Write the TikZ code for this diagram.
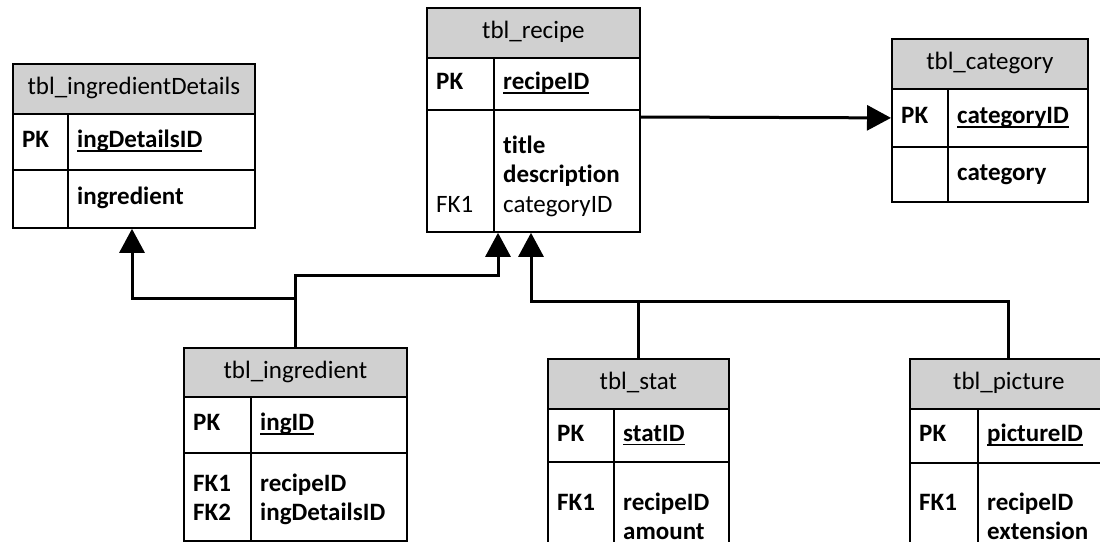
\documentclass[tikz,border=0pt]{standalone}
\usepackage{fontspec}
\setmainfont{Carlito}[Ligatures=NoCommon]
\usetikzlibrary{calc,arrows.meta}
\definecolor{hdrgray}{RGB}{208,208,208}
\newcommand\pkul[1]{\setbox0\hbox{#1}\rlap{\rule[-4pt]{\wd0}{1.8pt}}\box0}
\begin{document}
\begin{tikzpicture}[x=1pt,y=-1pt,
  txt/.style={font=\fontsize{25}{29.5}\selectfont, inner sep=0pt},
  frame/.style={draw=black, line width=1.8pt, rectangle, inner sep=0pt, anchor=north west},
  hdrbox/.style={frame, fill=hdrgray},
  lbl/.style={txt, anchor=west, xshift=10pt},
  body/.style={txt, anchor=north west, align=left},
  link/.style={line width=3pt},
  fk/.style={link, -{Triangle[length=24pt,width=25pt]}}
]
\useasboundingbox (0,0) rectangle (1100,549);

% tbl_ingredientDetails
\node[hdrbox, minimum width=242pt, minimum height=50pt] (id-h) at (12,63) {};
\node[txt] at (id-h) {\strut tbl\_ingredientDetails};
\node[frame, minimum width=55pt, minimum height=56pt] (id-pk) at (12,113) {};
\node[frame, minimum width=187pt, minimum height=56pt] (id-pf) at (67,113) {};
\node[frame, minimum width=55pt, minimum height=58pt] (id-bk) at (12,169) {};
\node[frame, minimum width=187pt, minimum height=58pt] (id-bf) at (67,169) {};
\node[lbl] at (id-pk.west) {\strut\bfseries PK};
\node[lbl] at (id-pf.west) {\strut\bfseries\pkul{ingDetailsID}};
\node[lbl] at (id-bf.west) {\strut\bfseries ingredient};

% tbl_recipe
\node[hdrbox, minimum width=213pt, minimum height=50pt] (rc-h) at (426,7) {};
\node[txt] at (rc-h) {\strut tbl\_recipe};
\node[frame, minimum width=67pt, minimum height=52pt] (rc-pk) at (426,57) {};
\node[frame, minimum width=146pt, minimum height=52pt] (rc-pf) at (493,57) {};
\node[frame, minimum width=67pt, minimum height=122pt] (rc-bk) at (426,109) {};
\node[frame, minimum width=146pt, minimum height=122pt] (rc-bf) at (493,109) {};
\node[lbl] at (rc-pk.west) {\strut\bfseries PK};
\node[lbl] at (rc-pf.west) {\strut\bfseries\pkul{recipeID}};
\node[body] at (503,132.35) {\strut\textbf{title}\\\strut\textbf{description}\\\strut categoryID};
\node[body] at (436,191.35) {\strut FK1};

% tbl_category
\node[hdrbox, minimum width=196pt, minimum height=50pt] (ct-h) at (891,38) {};
\node[txt] at (ct-h) {\strut tbl\_category};
\node[frame, minimum width=56pt, minimum height=58pt] (ct-pk) at (891,88) {};
\node[frame, minimum width=140pt, minimum height=58pt] (ct-pf) at (947,88) {};
\node[frame, minimum width=56pt, minimum height=55pt] (ct-bk) at (891,146) {};
\node[frame, minimum width=140pt, minimum height=55pt] (ct-bf) at (947,146) {};
\node[lbl] at (ct-pk.west) {\strut\bfseries PK};
\node[lbl] at (ct-pf.west) {\strut\bfseries\pkul{categoryID}};
\node[lbl] at (ct-bf.west) {\strut\bfseries category};

% tbl_ingredient
\node[hdrbox, minimum width=223pt, minimum height=49pt] (ig-h) at (183,347) {};
\node[txt] at (ig-h) {\strut tbl\_ingredient};
\node[frame, minimum width=67pt, minimum height=56pt] (ig-pk) at (183,396) {};
\node[frame, minimum width=156pt, minimum height=56pt] (ig-pf) at (250,396) {};
\node[frame, minimum width=67pt, minimum height=88pt] (ig-bk) at (183,452) {};
\node[frame, minimum width=156pt, minimum height=88pt] (ig-bf) at (250,452) {};
\node[lbl] at (ig-pk.west) {\strut\bfseries PK};
\node[lbl] at (ig-pf.west) {\strut\bfseries\pkul{ingID}};
\node[body] at (193,470.35) {\strut\textbf{FK1}\\\strut\textbf{FK2}};
\node[body] at (260,470.35) {\strut\textbf{recipeID}\\\strut\textbf{ingDetailsID}};

% tbl_stat and tbl_picture (cut off at the bottom)
\begin{scope}
\clip (0,0) rectangle (1100,541);
\node[hdrbox, minimum width=181pt, minimum height=50pt] (st-h) at (547,358) {};
\node[txt] at (st-h) {\strut tbl\_stat};
\node[frame, minimum width=66pt, minimum height=53pt] (st-pk) at (547,408) {};
\node[frame, minimum width=115pt, minimum height=53pt] (st-pf) at (613,408) {};
\node[frame, minimum width=66pt, minimum height=120pt] (st-bk) at (547,461) {};
\node[frame, minimum width=115pt, minimum height=120pt] (st-bf) at (613,461) {};
\node[lbl] at (st-pk.west) {\strut\bfseries PK};
\node[lbl] at (st-pf.west) {\strut\bfseries\pkul{statID}};
\node[body] at (557,489.35) {\strut\textbf{FK1}};
\node[body] at (623,489.35) {\strut\textbf{recipeID}\\\strut\textbf{amount}};

\node[hdrbox, minimum width=198pt, minimum height=50pt] (pc-h) at (909,358) {};
\node[txt] at (pc-h) {\strut tbl\_picture};
\node[frame, minimum width=68pt, minimum height=54pt] (pc-pk) at (909,408) {};
\node[frame, minimum width=130pt, minimum height=54pt] (pc-pf) at (977,408) {};
\node[frame, minimum width=68pt, minimum height=120pt] (pc-bk) at (909,462) {};
\node[frame, minimum width=130pt, minimum height=120pt] (pc-bf) at (977,462) {};
\node[lbl] at (pc-pk.west) {\strut\bfseries PK};
\node[lbl] at (pc-pf.west) {\strut\bfseries\pkul{pictureID}};
\node[body] at (919,489.35) {\strut\textbf{FK1}};
\node[body] at (987,489.35) {\strut\textbf{recipeID}\\\strut\textbf{extension}};
\end{scope}

% connectors
\coordinate (rcA) at ($(rc-bk.south west)+(72,0)$);
\coordinate (rcB) at ($(rc-bk.south west)+(105,0)$);
\coordinate (idA) at ($(id-bk.south west)+(120,0)$);
\coordinate (stJ) at ($(st-h.north)+(0,-57)$);
\draw[fk] (ig-h.north) -- ++(0,-72) -| (rcA);
\draw[fk] ($(ig-h.north)+(0,-49)$) -| (idA);
\draw[fk] (st-h.north) -- (stJ) -| (rcB);
\draw[link] (pc-h.north) |- (stJ);
\draw[fk] ($(rc-bf.north east)+(0,8)$) -- (ct-pk.west);
\end{tikzpicture}
\end{document}
